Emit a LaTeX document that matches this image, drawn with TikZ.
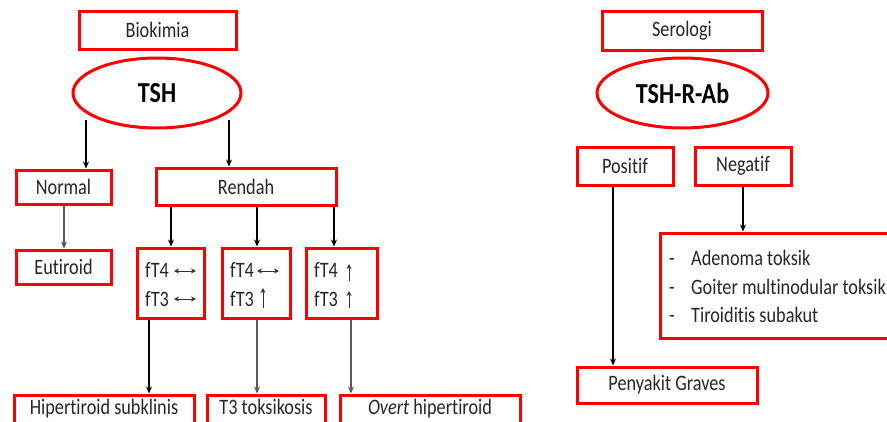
\documentclass[tikz,border=0pt]{standalone}
\usepackage{fontspec}
\setmainfont[FakeStretch=0.83, Ligatures={NoCommon,NoRare}]{Carlito}
\usetikzlibrary{shapes.geometric,arrows.meta}
\tikzset{
  rbox/.style={draw=red, line width=3pt, rectangle, inner sep=0pt, text=black!85,
    font=\fontsize{22}{26}\selectfont},
  rell/.style={draw=red, line width=3pt, ellipse, inner sep=0pt, text=black,
    font=\fontsize{29}{33}\selectfont\bfseries},
  lbl/.style={inner sep=0pt, text=black!85, font=\fontsize{22}{26}\selectfont},
  arr/.style={line width=1.3pt, draw=black, -{Stealth[length=7pt,width=6pt]}},
  garr/.style={arr, draw=black!65},
  small/.style={line width=1pt, draw=black!80},
  sh/.style={{Stealth[length=5pt,width=5pt]}-{Stealth[length=5pt,width=5pt]}},
  su/.style={-{Stealth[length=5pt,width=5pt]}},
}
\begin{document}
\begin{tikzpicture}[x=1pt,y=-1pt]
\useasboundingbox (0,0) rectangle (887,421);
\clip (0,0) rectangle (887,421);
% ---------- left part ----------
\node[rbox, minimum width=157, minimum height=38] (bio) at (157.5,30) {Biokimia};
\node[rell, minimum width=168, minimum height=70] (tsh) at (157,93) {TSH};
\node[rbox, minimum width=95, minimum height=34] (normal) at (63.5,187) {Normal};
\node[rbox, minimum width=180, minimum height=37] (rendah) at (246,186.5) {Rendah};
\node[rbox, minimum width=95, minimum height=34] (eut) at (63.5,267) {Eutiroid};
\node[rbox, minimum width=67, minimum height=70] (f1) at (170.5,283) {};
\node[rbox, minimum width=68, minimum height=70] (f2) at (256,283) {};
\node[rbox, minimum width=71, minimum height=70] (f3) at (341.5,283) {};
\node[rbox, minimum width=180, minimum height=38] (hs) at (104,414) {};
\node[rbox, minimum width=118, minimum height=38] (t3) at (266,414) {};
\node[rbox, minimum width=180, minimum height=38] (ov) at (430,414) {};
\node[lbl, anchor=base] (hst) at (104,414) {Hipertiroid subklinis};
\node[lbl, anchor=base] (t3t) at (266,414) {T3 toksikosis};
\node[lbl, anchor=base] (ovt) at (430,414) {\textit{Overt} hipertiroid};

% fT labels
\node[lbl, anchor=base west] (f1a) at (145,277) {fT4};
\node[lbl, anchor=base west] (f1b) at (145,306) {fT3};
\node[lbl, anchor=base west] (f2a) at (230,277) {fT4};
\node[lbl, anchor=base west] (f2b) at (230,306) {fT3};
\node[lbl, anchor=base west] (f3a) at (314,277) {fT4};
\node[lbl, anchor=base west] (f3b) at (314,306) {fT3};
% small indicator arrows
\coordinate (a11) at (174,271);
\coordinate (a12) at (174,299);
\coordinate (a21) at (257,271);
\coordinate (a22) at (263,308);
\coordinate (a31) at (349,281);
\coordinate (a32) at (349,308);
\draw[small, sh] (a11) -- ++(22,0);
\draw[small, sh] (a12) -- ++(22,0);
\draw[small, sh] (a21) -- ++(22,0);
\draw[small, su] (a22) -- ++(0,-20);
\draw[small, su] (a31) -- ++(0,-17);
\draw[small, su] (a32) -- ++(0,-17);

% connectors
\coordinate (t1) at (86,120);
\coordinate (t2) at (229,120);
\draw[arr] (t1) -- (t1 |- normal.north);
\draw[arr] (t2) -- (t2 |- rendah.north);
\coordinate (n1) at (64,204);
\draw[garr] (normal.south -| n1) -- (eut.north -| n1);
\coordinate (r1) at (171,205);
\coordinate (r2) at (257,205);
\coordinate (r3) at (334,205);
\draw[arr] (rendah.south -| r1) -- (f1.north -| r1);
\draw[arr] (rendah.south -| r2) -- (f2.north -| r2);
\draw[arr] (rendah.south -| r3) -- (f3.north -| r3);
\coordinate (b1) at (149,318);
\coordinate (b2) at (257,318);
\coordinate (b3) at (351,318);
\draw[arr] (f1.south -| b1) -- (hs.north -| b1);
\draw[garr] (f2.south -| b2) -- (t3.north -| b2);
\draw[garr] (f3.south -| b3) -- (ov.north -| b3);

% ---------- right part ----------
\node[rbox, minimum width=160, minimum height=39] (sero) at (682,30.5) {Serologi};
\node[rell, minimum width=171, minimum height=70] (tshr) at (682.5,93) {TSH-R-Ab};
\node[rbox, minimum width=96, minimum height=38] (pos) at (625,166) {Positif};
\node[rbox, minimum width=96, minimum height=38] (neg) at (743,166) {Negatif};
\node[rbox, minimum width=240, minimum height=105] (list) at (780,285.5) {};
\node[rbox, minimum width=180, minimum height=36] (graves) at (667,385) {Penyakit Graves};

\node[lbl, anchor=base west] (d1) at (669,265) {-};
\node[lbl, anchor=base west] (d2) at (669,294) {-};
\node[lbl, anchor=base west] (d3) at (669,322) {-};
\node[lbl, anchor=base west] (l1) at (691,265) {Adenoma toksik};
\node[lbl, anchor=base west] (l2) at (691,294) {Goiter multinodular toksik};
\node[lbl, anchor=base west] (l3) at (691,322) {Tiroiditis subakut};

\coordinate (p1) at (613,185);
\draw[arr] (pos.south -| p1) -- (graves.north -| p1);
\draw[arr] (neg.south) -- (list.north -| neg.south);
\end{tikzpicture}
\end{document}
